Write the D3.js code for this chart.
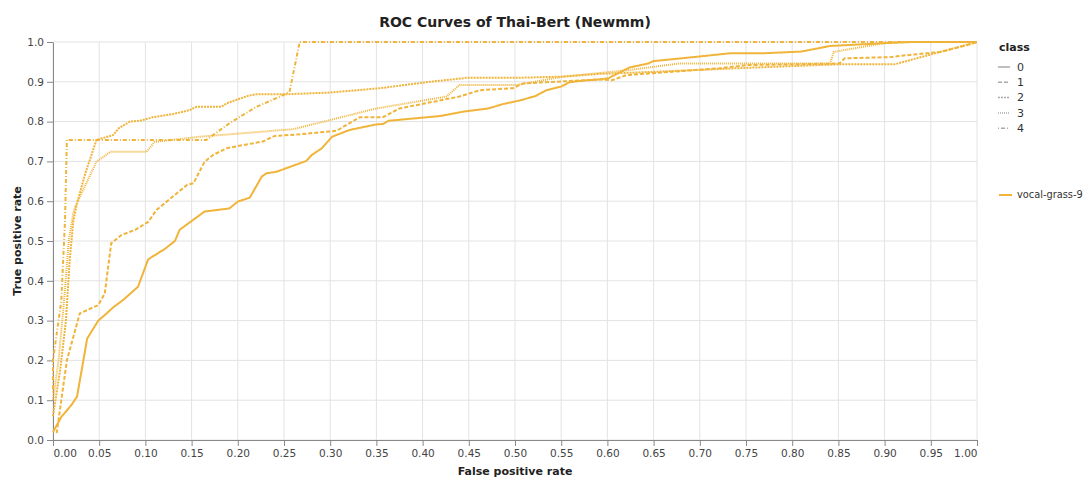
<!DOCTYPE html>
<html>
<head>
<meta charset="utf-8">
<script src="https://cdn.jsdelivr.net/npm/d3@7"></script>
<style>
  body { margin: 0; background: #fff; }
  text { font-family: "DejaVu Sans", Verdana, sans-serif; }
</style>
</head>
<body>
<div id="chart"></div>
<script>
// ROC curves, one per class, all from run "vocal-grass-9"
const classes = ["0", "1", "2", "3", "4"];
const runName = "vocal-grass-9";

const fpr0 = [0, 0.009, 0.02, 0.026, 0.037, 0.049, 0.058, 0.065, 0.076, 0.092, 0.103, 0.121, 0.132, 0.137, 0.164, 0.191, 0.2, 0.213, 0.226, 0.231, 0.242, 0.249, 0.274, 0.28, 0.291, 0.302, 0.321, 0.35, 0.357, 0.363, 0.419, 0.444, 0.471, 0.487, 0.505, 0.522, 0.534, 0.55, 0.559, 0.574, 0.592, 0.601, 0.624, 0.644, 0.65, 0.697, 0.734, 0.772, 0.81, 0.841, 0.899, 0.93, 1];
const tpr0 = [0.02, 0.058, 0.088, 0.109, 0.255, 0.3, 0.318, 0.333, 0.352, 0.385, 0.454, 0.48, 0.5, 0.528, 0.574, 0.582, 0.599, 0.609, 0.662, 0.67, 0.674, 0.68, 0.701, 0.716, 0.733, 0.762, 0.779, 0.793, 0.794, 0.802, 0.814, 0.825, 0.833, 0.844, 0.853, 0.864, 0.879, 0.888, 0.899, 0.903, 0.906, 0.909, 0.936, 0.946, 0.952, 0.963, 0.972, 0.972, 0.976, 0.99, 0.997, 1, 1];

const fpr1 = [0.004, 0.006, 0.015, 0.029, 0.049, 0.056, 0.063, 0.074, 0.089, 0.103, 0.112, 0.132, 0.145, 0.152, 0.164, 0.173, 0.188, 0.206, 0.227, 0.24, 0.267, 0.307, 0.321, 0.332, 0.357, 0.375, 0.44, 0.462, 0.498, 0.509, 0.592, 0.605, 0.621, 0.721, 0.751, 0.851, 0.857, 0.906, 0.916, 0.96, 0.989, 1];
const tpr1 = [0.017, 0.05, 0.2, 0.318, 0.339, 0.368, 0.494, 0.515, 0.528, 0.548, 0.578, 0.616, 0.641, 0.645, 0.699, 0.716, 0.733, 0.741, 0.75, 0.764, 0.768, 0.777, 0.796, 0.811, 0.811, 0.833, 0.863, 0.879, 0.884, 0.896, 0.906, 0.904, 0.917, 0.934, 0.942, 0.946, 0.959, 0.962, 0.965, 0.975, 0.992, 1];

const fpr2 = [0, 0.008, 0.014, 0.018, 0.022, 0.026, 0.035, 0.047, 0.065, 0.071, 0.083, 0.094, 0.108, 0.13, 0.148, 0.155, 0.182, 0.188, 0.21, 0.22, 0.256, 0.3, 0.354, 0.408, 0.448, 0.502, 0.552, 0.592, 0.65, 0.75, 0.85, 0.911, 0.96, 1];
const tpr2 = [0.06, 0.18, 0.3, 0.45, 0.55, 0.595, 0.67, 0.754, 0.766, 0.783, 0.8, 0.802, 0.811, 0.819, 0.829, 0.837, 0.837, 0.846, 0.864, 0.869, 0.869, 0.873, 0.884, 0.9, 0.91, 0.91, 0.913, 0.92, 0.925, 0.935, 0.944, 0.944, 0.975, 1];

const fpr3 = [0, 0.006, 0.012, 0.017, 0.022, 0.024, 0.047, 0.062, 0.101, 0.11, 0.159, 0.18, 0.26, 0.3, 0.35, 0.426, 0.44, 0.502, 0.552, 0.621, 0.678, 0.841, 0.845, 0.899, 0.916, 1];
const tpr3 = [0.1, 0.2, 0.35, 0.5, 0.57, 0.586, 0.699, 0.724, 0.724, 0.749, 0.762, 0.766, 0.781, 0.804, 0.833, 0.863, 0.892, 0.892, 0.913, 0.929, 0.946, 0.946, 0.975, 0.997, 1, 1];

const fpr4 = [0, 0, 0.006, 0.009, 0.013, 0.015, 0.166, 0.191, 0.22, 0.246, 0.256, 0.267, 1];
const tpr4 = [0.12, 0.2, 0.3, 0.35, 0.553, 0.754, 0.754, 0.796, 0.837, 0.863, 0.875, 1, 1];

const xTicks = d3.range(0, 21).map(i => i / 20);
const yTicks = d3.range(0, 11).map(i => i / 10);

const fprs = [fpr0, fpr1, fpr2, fpr3, fpr4];
const tprs = [tpr0, tpr1, tpr2, tpr3, tpr4];
const curves = classes.map((c, i) => ({
  cls: c,
  points: fprs[i].map((f, j) => ({ fpr: f, tpr: tprs[i][j] }))
}));

const width = 1089, height = 478;
const margin = { top: 42, right: 112, bottom: 38, left: 53 };
const innerW = width - margin.left - margin.right;
const innerH = height - margin.top - margin.bottom;
const lineColor = "#f0b43a";

const svg = d3.select("#chart").append("svg")
  .attr("width", width)
  .attr("height", height);

const x = d3.scaleLinear().domain([0, 1]).range([0, innerW]);
const y = d3.scaleLinear().domain([0, 1]).range([innerH, 0]);
const dash = d3.scaleOrdinal()
  .domain(classes)
  .range(["1,0", "4,2", "2,1", "1,1", "1,2,4,2"]);

const g = svg.append("g")
  .attr("transform", `translate(${margin.left},${margin.top})`);

// grid
g.append("g")
  .selectAll("line")
  .data(xTicks)
  .join("line")
  .attr("x1", d => x(d)).attr("x2", d => x(d))
  .attr("y1", 0).attr("y2", innerH)
  .attr("stroke", "#e3e3e3");
g.append("g")
  .selectAll("line")
  .data(yTicks)
  .join("line")
  .attr("x1", 0).attr("x2", innerW)
  .attr("y1", d => y(d)).attr("y2", d => y(d))
  .attr("stroke", "#e3e3e3");

// axes
const xAxis = g.append("g")
  .attr("transform", `translate(0,${innerH})`)
  .call(d3.axisBottom(x).tickValues(xTicks).tickFormat(d3.format(".2f")).tickSizeOuter(0).tickPadding(4));
const yAxis = g.append("g")
  .call(d3.axisLeft(y).tickValues(yTicks).tickFormat(d3.format(".1f")).tickSizeOuter(0).tickPadding(3));

[xAxis, yAxis].forEach(a => {
  a.select(".domain").attr("stroke", "#888");
  a.selectAll(".tick line").attr("stroke", "#888");
  a.selectAll(".tick text")
    .attr("fill", "#444")
    .style("font-size", "10.5px")
    .style("font-family", "'DejaVu Sans', Verdana, sans-serif");
});
// flush first/last x labels like the original
xAxis.selectAll(".tick text")
  .attr("text-anchor", d => d === 0 ? "start" : d === 1 ? "end" : "middle");

// curves
const line = d3.line()
  .x(d => x(d.fpr))
  .y(d => y(d.tpr));

g.append("g")
  .selectAll("path")
  .data(curves)
  .join("path")
  .attr("d", d => line(d.points))
  .attr("fill", "none")
  .attr("stroke", lineColor)
  .attr("stroke-width", 2)
  .attr("stroke-dasharray", d => dash(d.cls));

// titles
svg.append("text")
  .attr("x", margin.left + innerW / 2)
  .attr("y", 27)
  .attr("text-anchor", "middle")
  .style("font-size", "14px")
  .style("font-weight", "bold")
  .attr("fill", "#222")
  .text("ROC Curves of Thai-Bert (Newmm)");

svg.append("text")
  .attr("x", margin.left + innerW / 2)
  .attr("y", 475)
  .attr("text-anchor", "middle")
  .style("font-size", "11px")
  .style("font-weight", "bold")
  .attr("fill", "#222")
  .text("False positive rate");

svg.append("text")
  .attr("transform", `translate(21,${margin.top + innerH / 2}) rotate(-90)`)
  .attr("text-anchor", "middle")
  .style("font-size", "11px")
  .style("font-weight", "bold")
  .attr("fill", "#222")
  .text("True positive rate");

// legend: class (stroke dash)
const legend = svg.append("g").attr("transform", "translate(998,0)");
legend.append("text")
  .attr("x", 1).attr("y", 51)
  .style("font-size", "11px")
  .style("font-weight", "bold")
  .attr("fill", "#222")
  .text("class");

const items = legend.selectAll(".item")
  .data(classes)
  .join("g")
  .attr("class", "item")
  .attr("transform", (d, i) => `translate(0,${67 + i * 15.3})`);
items.append("line")
  .attr("x1", 0).attr("x2", 12)
  .attr("stroke", "#aaa")
  .attr("stroke-width", 1.5)
  .attr("stroke-dasharray", d => dash(d));
items.append("text")
  .attr("x", 19).attr("dy", "0.35em")
  .style("font-size", "11px")
  .attr("fill", "#333")
  .text(d => d);

// legend: run (colour)
const run = legend.append("g").attr("transform", "translate(0,195)");
run.append("line")
  .attr("x1", 1).attr("x2", 14)
  .attr("stroke", lineColor)
  .attr("stroke-width", 2);
run.append("text")
  .attr("x", 19).attr("dy", "0.35em")
  .style("font-size", "9.8px")
  .attr("fill", "#333")
  .text(runName);
</script>
</body>
</html>
